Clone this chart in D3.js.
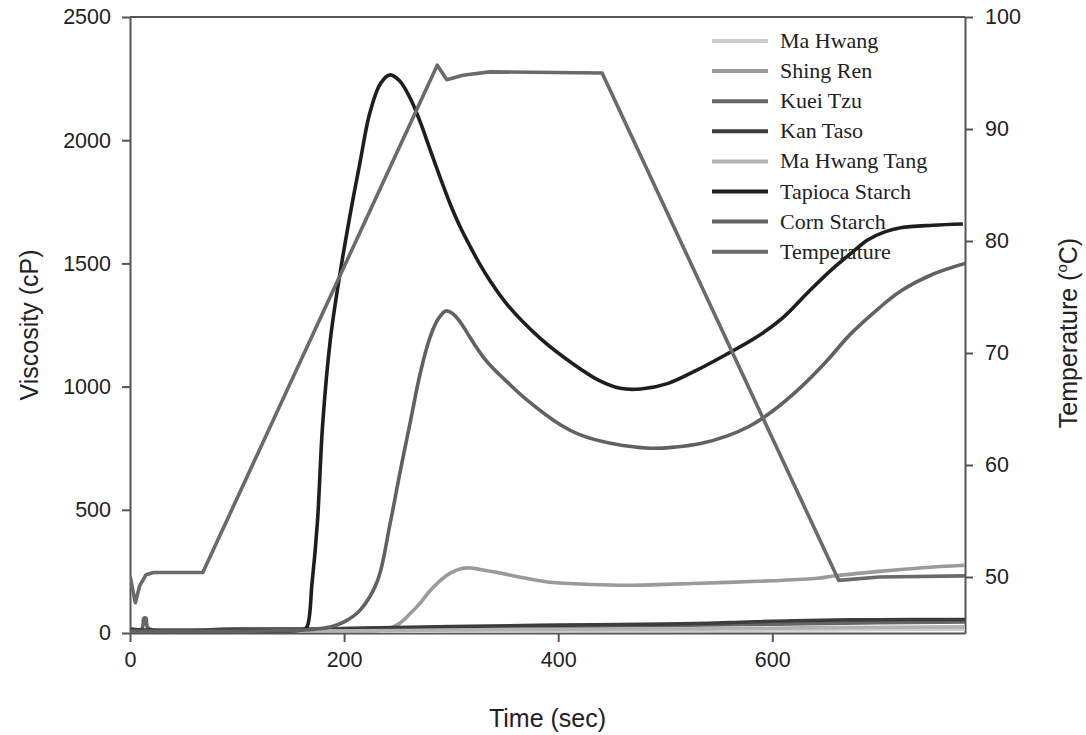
<!DOCTYPE html>
<html>
<head>
<meta charset="utf-8">
<script src="https://cdn.jsdelivr.net/npm/d3@7"></script>
<style>
	body { margin: 0; background: #fff; }
	svg { display: block; }
</style>
</head>
<body>
<div id="chart"></div>
<script>

/* Datos: [tiempo (s), viscosidad (cP)] */
var maHwang = [[0, 6], [100, 5], [200, 6], [300, 8], [400, 9], [500, 10], [600, 12], [700, 14], [780, 15]];
var maHwangTang = [[0, 9], [150, 8], [250, 10], [350, 14], [450, 16], [550, 18], [650, 22], [780, 25]];
var kueiTzu = [[0, 18], [11, 17], [13, 60], [15, 60], [17, 20], [100, 17], [200, 18], [300, 22], [400, 26], [500, 30], [600, 36], [700, 42], [780, 45]];
var kanTaso = [[0, 12], [160, 12], [220, 20], [300, 26], [400, 32], [500, 36], [560, 42], [620, 50], [700, 54], [780, 55]];
var shingRen = [[0, 5], [200, 6], [240, 15], [252, 40], [262, 80], [271, 121], [280, 170], [290, 214], [300, 245], [310, 262], [318, 264],
	[327, 258], [346, 243], [370, 222], [392, 206], [430, 197], [470, 194], [533, 202], [600, 212], [642, 222], [657, 231], [700, 250], [740, 265], [780, 275]];
var tapiocaStarch = [[0, 10], [100, 10], [160, 12], [165, 22], [170, 200], [175, 445], [180, 849], [187, 1185], [194, 1400], [205, 1683],
	[215, 1913], [224, 2110], [234, 2230], [243, 2265], [252, 2240], [262, 2168], [271, 2075], [280, 1966], [290, 1845], [299, 1742],
	[308, 1652], [318, 1567], [327, 1495], [336, 1432], [352, 1335], [383, 1197], [414, 1092], [439, 1023], [458, 993], [477, 990],
	[502, 1012], [530, 1068], [558, 1133], [585, 1200], [610, 1280], [635, 1390], [657, 1481], [676, 1550], [689, 1595], [705, 1628],
	[720, 1645], [750, 1655], [778, 1660]];
var cornStarch = [[0, 8], [150, 10], [170, 14], [187, 24], [200, 45], [215, 93], [231, 210], [243, 445], [252, 647], [262, 860], [271, 1052],
	[280, 1197], [288, 1275], [295, 1307], [301, 1298], [308, 1265], [315, 1218], [322, 1170], [330, 1120], [340, 1070], [352, 1020],
	[371, 945], [402, 845], [420, 805], [449, 770], [486, 750], [510, 755], [533, 769], [558, 800], [579, 840], [600, 900], [626, 995],
	[650, 1100], [673, 1213], [700, 1320], [720, 1388], [750, 1456], [780, 1500]];

/* Temperatura: [tiempo (s), ºC] */
var temperature = [[0, 50.1], [5, 47.7], [9, 49.2], [15, 50.2], [22, 50.4], [68, 50.4], [287, 95.7], [296, 94.4], [311, 94.8],
	[336, 95.1], [441, 95.0], [662, 49.7], [700, 50.0], [780, 50.1]];

var viscTicks = [0, 500, 1000, 1500, 2000, 2500];
var tempTicks = [50, 60, 70, 80, 90, 100];
var timeTicks = [0, 200, 400, 600];

var series = [
	{ name: "Ma Hwang", data: maHwang, color: "#cdcdcd" },
	{ name: "Shing Ren", data: shingRen, color: "#9a9a9a" },
	{ name: "Kuei Tzu", data: kueiTzu, color: "#666666" },
	{ name: "Kan Taso", data: kanTaso, color: "#3c3c3c" },
	{ name: "Ma Hwang Tang", data: maHwangTang, color: "#b2b2b2" },
	{ name: "Tapioca Starch", data: tapiocaStarch, color: "#1e1e1e" },
	{ name: "Corn Starch", data: cornStarch, color: "#616161" },
	{ name: "Temperature", data: temperature, color: "#6a6a6a", temp: true }
];

var width = 1086, height = 735;
var margin = { top: 17, right: 121, bottom: 102, left: 130 };

var svg = d3.select("#chart").append("svg")
	.attr("width", width)
	.attr("height", height);

var x = d3.scaleLinear().domain([0, 780]).range([margin.left, width - margin.right]);
var y = d3.scaleLinear().domain([0, 2500]).range([height - margin.bottom, margin.top]);
var yT = d3.scaleLinear().domain([45, 100]).range([height - margin.bottom, margin.top]);

svg.append("clipPath").attr("id", "plot-clip")
	.append("rect")
	.attr("x", x(0)).attr("y", y(2500))
	.attr("width", x(780) - x(0)).attr("height", y(0) - y(2500));

var tickFont = "'Liberation Sans', Arial, sans-serif";
var fmt = d3.format("d");

/* Ejes */
var axisL = svg.append("g").attr("transform", "translate(" + x(0) + ",0)")
	.call(d3.axisLeft(y).tickValues(viscTicks).tickFormat(fmt).tickSize(8).tickPadding(11).tickSizeOuter(0));
var axisR = svg.append("g").attr("transform", "translate(" + x(780) + ",0)")
	.call(d3.axisRight(yT).tickValues(tempTicks).tickFormat(fmt).tickSize(8).tickPadding(12).tickSizeOuter(0));
var axisB = svg.append("g").attr("transform", "translate(0," + y(0) + ")")
	.call(d3.axisBottom(x).tickValues(timeTicks).tickFormat(fmt).tickSize(9).tickPadding(10).tickSizeOuter(0));

[axisL, axisR, axisB].forEach(function (a) {
	a.selectAll("path, line").attr("stroke", "#555").attr("stroke-width", 2);
	a.selectAll("text").attr("font-family", tickFont).attr("font-size", 21.5).attr("fill", "#222");
});

/* Borde superior */
svg.append("line")
	.attr("x1", x(0)).attr("x2", x(780))
	.attr("y1", y(2500)).attr("y2", y(2500))
	.attr("stroke", "#555").attr("stroke-width", 2);

/* Líneas */
var g = svg.append("g").attr("clip-path", "url(#plot-clip)");

series.forEach(function (s) {
	var line = d3.line()
		.x(function (d) { return x(d[0]); })
		.y(function (d) { return s.temp ? yT(d[1]) : y(d[1]); })
		.curve(s.temp ? d3.curveLinear : d3.curveCatmullRom.alpha(0.5));

	g.append("path")
		.datum(s.data)
		.attr("fill", "none")
		.attr("stroke", s.color)
		.attr("stroke-width", 3.6)
		.attr("stroke-linejoin", "round")
		.attr("d", line);
});

/* Leyenda */
var legend = svg.append("g").attr("class", "legend");
series.forEach(function (s, i) {
	var ly = 41 + i * 30.1;
	legend.append("line")
		.attr("x1", 712).attr("x2", 768)
		.attr("y1", ly).attr("y2", ly)
		.attr("stroke", s.color).attr("stroke-width", 4);
	legend.append("text")
		.attr("x", 780).attr("y", ly + 7)
		.attr("font-family", "'Liberation Serif', 'Times New Roman', serif")
		.attr("font-size", 22)
		.attr("fill", "#222")
		.text(s.name);
});

/* Títulos de ejes */
svg.append("text")
	.attr("x", (x(0) + x(780)) / 2).attr("y", 727)
	.attr("text-anchor", "middle")
	.attr("font-family", tickFont).attr("font-size", 25).attr("fill", "#222")
	.text("Time (sec)");

svg.append("text")
	.attr("transform", "translate(38," + (y(0) + y(2500)) / 2 + ") rotate(-90)")
	.attr("text-anchor", "middle")
	.attr("font-family", tickFont).attr("font-size", 25).attr("fill", "#222")
	.text("Viscosity (cP)");

var tTitle = svg.append("text")
	.attr("transform", "translate(1077," + ((y(0) + y(2500)) / 2 + 8) + ") rotate(-90)")
	.attr("text-anchor", "middle")
	.attr("font-family", tickFont).attr("font-size", 25).attr("fill", "#222");
tTitle.append("tspan").text("Temperature (");
tTitle.append("tspan").attr("font-size", 15).attr("dy", -10).text("o");
tTitle.append("tspan").attr("dy", 10).text("C)");

</script>
</body>
</html>
